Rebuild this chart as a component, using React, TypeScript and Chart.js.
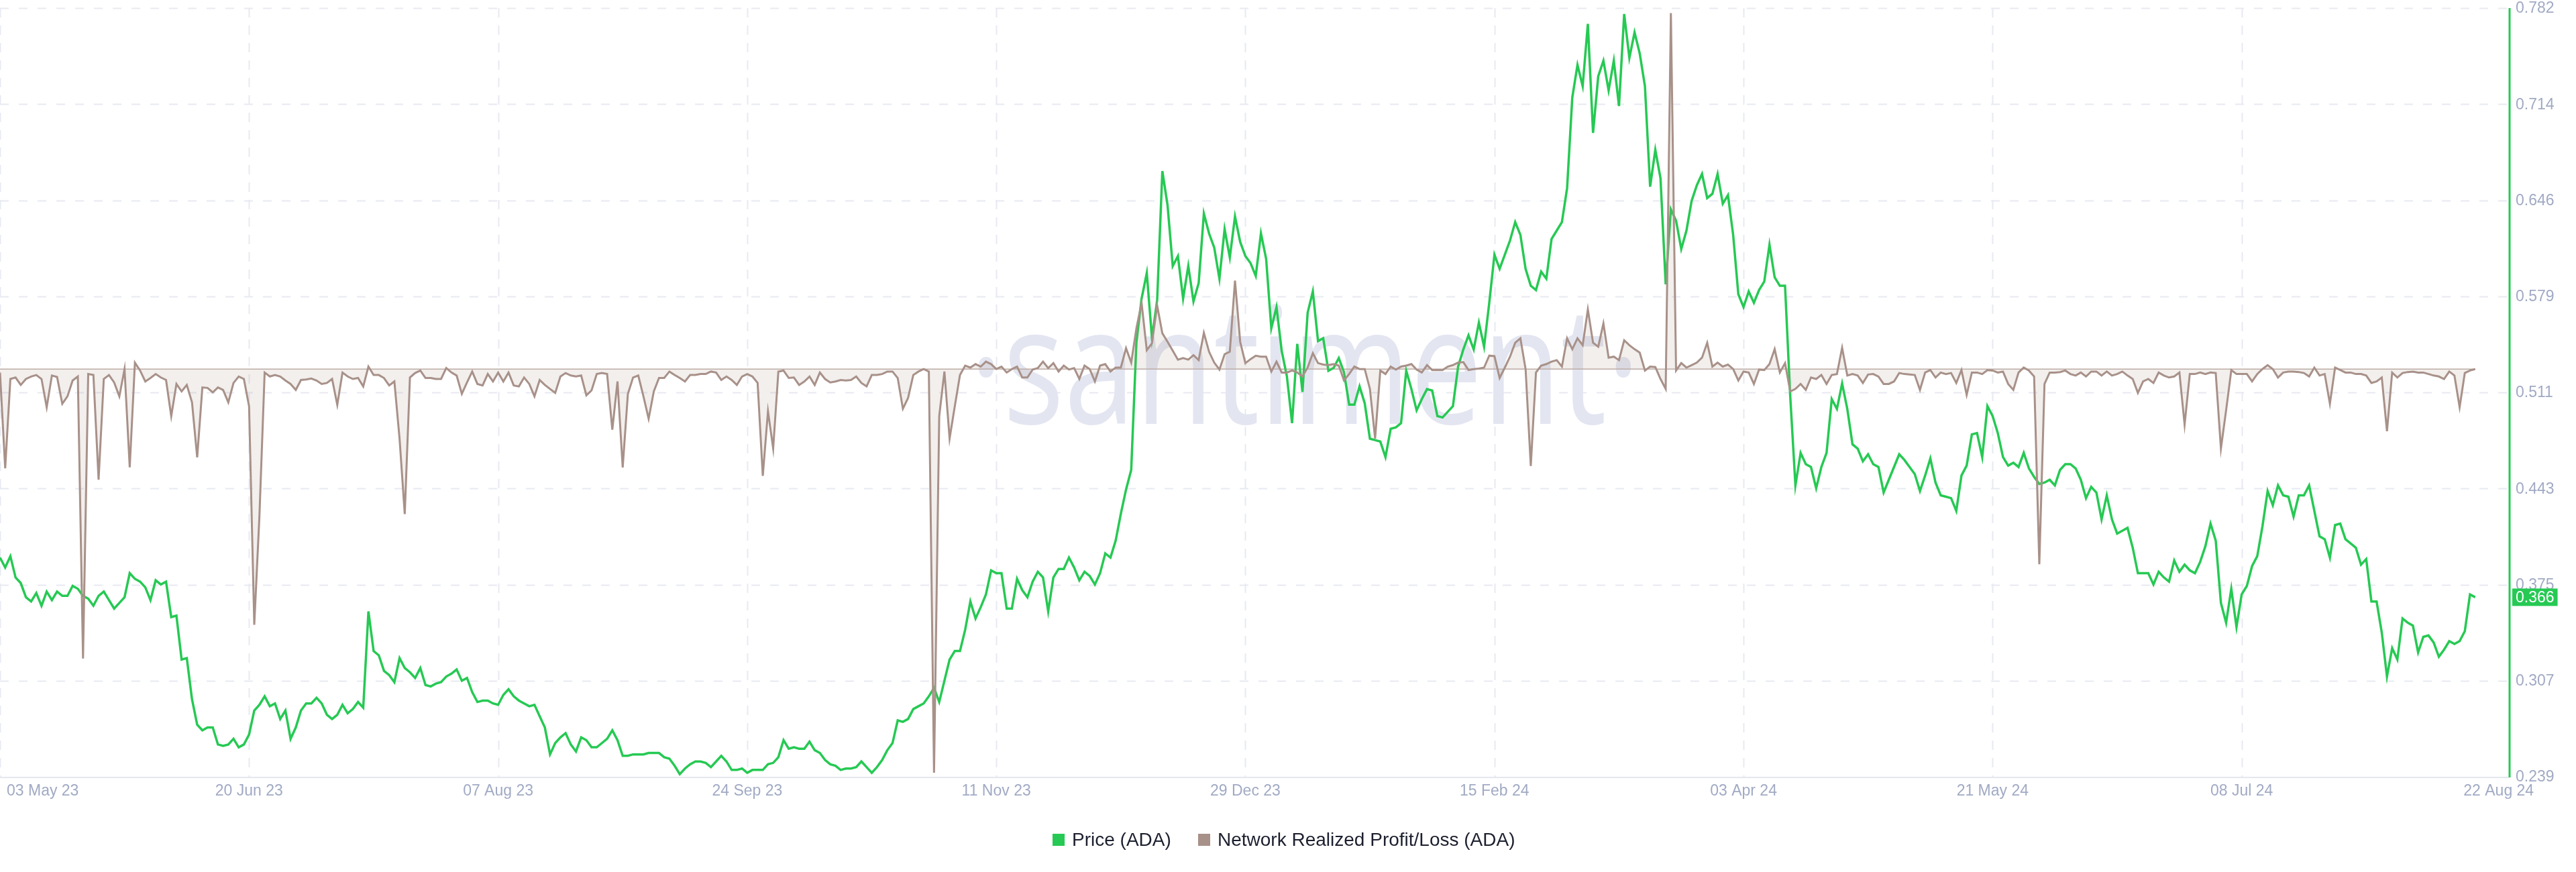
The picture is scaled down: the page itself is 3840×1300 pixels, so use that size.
import React, { useEffect, useRef } from "react";
import { Chart, registerables } from "chart.js";

Chart.register(...registerables);

// Daily series, first day = 03 May 2023
const START_DATE = "2023-05-03";

// Price (ADA), USD
const PRICE = [
  0.394, 0.387, 0.395, 0.380, 0.376, 0.366, 0.363, 0.369, 0.360, 0.370,
  0.364, 0.370, 0.367, 0.367, 0.374, 0.372, 0.367, 0.365, 0.360, 0.367,
  0.370, 0.364, 0.358, 0.362, 0.366, 0.383, 0.379, 0.377, 0.373, 0.364,
  0.378, 0.375, 0.377, 0.352, 0.353, 0.322, 0.323, 0.294, 0.276, 0.272,
  0.274, 0.274, 0.262, 0.261, 0.262, 0.266, 0.260, 0.262, 0.269, 0.286,
  0.290, 0.296, 0.289, 0.291, 0.280, 0.286, 0.266, 0.274, 0.286, 0.291,
  0.291, 0.295, 0.291, 0.283, 0.280, 0.283, 0.290, 0.284, 0.287, 0.292,
  0.288, 0.356, 0.328, 0.325, 0.314, 0.311, 0.306, 0.323, 0.316, 0.313,
  0.309, 0.316, 0.304, 0.303, 0.305, 0.306, 0.310, 0.312, 0.315, 0.307,
  0.309, 0.299, 0.292, 0.293, 0.293, 0.291, 0.290, 0.297, 0.301, 0.296,
  0.293, 0.291, 0.289, 0.290, 0.282, 0.274, 0.255, 0.263, 0.267, 0.270,
  0.262, 0.257, 0.267, 0.265, 0.260, 0.260, 0.263, 0.266, 0.272, 0.265,
  0.254, 0.254, 0.255, 0.255, 0.255, 0.256, 0.256, 0.256, 0.253, 0.252,
  0.247, 0.241, 0.245, 0.248, 0.250, 0.250, 0.249, 0.246, 0.250, 0.254,
  0.250, 0.244, 0.244, 0.245, 0.242, 0.244, 0.244, 0.244, 0.248, 0.249,
  0.253, 0.265, 0.259, 0.260, 0.259, 0.259, 0.264, 0.258, 0.256, 0.251,
  0.248, 0.247, 0.244, 0.245, 0.245, 0.246, 0.250, 0.246, 0.242, 0.246,
  0.251, 0.258, 0.263, 0.279, 0.278, 0.280, 0.287, 0.289, 0.291, 0.296,
  0.302, 0.292, 0.307, 0.322, 0.328, 0.328, 0.343, 0.363, 0.351, 0.359,
  0.368, 0.385, 0.383, 0.383, 0.358, 0.358, 0.379, 0.371, 0.366, 0.377,
  0.384, 0.380, 0.356, 0.380, 0.386, 0.386, 0.394, 0.387, 0.378, 0.384,
  0.381, 0.375, 0.383, 0.397, 0.394, 0.406, 0.425, 0.442, 0.456, 0.546,
  0.577, 0.595, 0.549, 0.576, 0.667, 0.643, 0.600, 0.607, 0.577, 0.600,
  0.575, 0.588, 0.637, 0.623, 0.613, 0.591, 0.626, 0.606, 0.635, 0.617,
  0.607, 0.602, 0.593, 0.623, 0.605, 0.556, 0.571, 0.540, 0.522, 0.489,
  0.545, 0.511, 0.567, 0.582, 0.547, 0.549, 0.526, 0.528, 0.535, 0.525,
  0.502, 0.502, 0.515, 0.503, 0.478, 0.477, 0.476, 0.465, 0.485, 0.486,
  0.489, 0.526, 0.513, 0.498, 0.506, 0.513, 0.512, 0.494, 0.493, 0.497,
  0.501, 0.529, 0.541, 0.551, 0.541, 0.560, 0.543, 0.574, 0.608, 0.598,
  0.608, 0.618, 0.631, 0.622, 0.598, 0.586, 0.583, 0.596, 0.591, 0.619,
  0.625, 0.631, 0.655, 0.719, 0.742, 0.727, 0.771, 0.694, 0.734, 0.745,
  0.724, 0.745, 0.713, 0.778, 0.747, 0.765, 0.750, 0.727, 0.656, 0.682,
  0.662, 0.587, 0.640, 0.632, 0.612, 0.625, 0.646, 0.657, 0.665, 0.648,
  0.651, 0.665, 0.644, 0.650, 0.622, 0.580, 0.571, 0.582, 0.574, 0.583,
  0.589, 0.615, 0.592, 0.586, 0.586, 0.508, 0.445, 0.468, 0.460, 0.458,
  0.443, 0.458, 0.468, 0.506, 0.499, 0.517, 0.499, 0.474, 0.471, 0.462,
  0.467, 0.460, 0.458, 0.440, 0.449, 0.458, 0.467, 0.463, 0.458, 0.453,
  0.441, 0.452, 0.464, 0.447, 0.438, 0.437, 0.436, 0.427, 0.452, 0.459,
  0.481, 0.482, 0.465, 0.501, 0.494, 0.482, 0.465, 0.459, 0.461, 0.458,
  0.468, 0.457, 0.451, 0.446, 0.447, 0.449, 0.445, 0.456, 0.460, 0.460,
  0.457, 0.449, 0.436, 0.444, 0.440, 0.421, 0.438, 0.421, 0.411, 0.413,
  0.415, 0.401, 0.383, 0.383, 0.383, 0.375, 0.384, 0.380, 0.377, 0.392,
  0.384, 0.389, 0.385, 0.383, 0.391, 0.402, 0.418, 0.406, 0.362, 0.348,
  0.372, 0.345, 0.368, 0.374, 0.388, 0.395, 0.416, 0.441, 0.431, 0.445,
  0.438, 0.437, 0.423, 0.438, 0.438, 0.445, 0.427, 0.409, 0.407, 0.394,
  0.417, 0.418, 0.407, 0.404, 0.401, 0.389, 0.393, 0.363, 0.363, 0.341,
  0.310, 0.330, 0.322, 0.351, 0.348, 0.346, 0.327, 0.338, 0.339, 0.334,
  0.324, 0.329, 0.335, 0.333, 0.335, 0.342, 0.368, 0.366,
];

// Network Realized Profit/Loss (ADA), millions of ADA
const NRPL = [
  -7, -200, -20, -17, -32, -20, -15, -12, -20, -77,
  -13, -16, -70, -55, -23, -15, -583, -10, -12, -223,
  -20, -12, -27, -55, 0, -198, 13, -3, -25, -18,
  -10, -17, -22, -95, -30, -45, -32, -67, -178, -37,
  -38, -47, -37, -42, -67, -28, -15, -20, -75, -515,
  -295, -7, -15, -12, -15, -23, -30, -42, -22, -21,
  -19, -23, -30, -28, -20, -72, -7, -15, -20, -18,
  -35, 5, -12, -12, -18, -33, -25, -140, -292, -17,
  -8, -3, -18, -18, -20, -20, 2, -7, -13, -50,
  -27, -5, -30, -33, -10, -25, -7, -25, -7, -33,
  -35, -17, -30, -55, -22, -32, -40, -48, -15, -8,
  -13, -15, -13, -53, -43, -10, -8, -10, -122, -25,
  -198, -50, -17, -13, -55, -100, -45, -18, -18, -5,
  -12, -18, -25, -12, -12, -10, -10, -5, -7, -22,
  -15, -22, -32, -15, -10, -15, -28, -215, -85, -160,
  -5, -3, -18, -17, -32, -25, -15, -32, -7, -20,
  -27, -25, -22, -23, -22, -15, -28, -35, -12, -12,
  -10, -5, -5, -18, -80, -58, -12, -5, 0, -5,
  -813, -95, -5, -140, -75, -12, 7, 3, 10, 5,
  15, 10, 0, 5, -7, 0, 5, -17, -17, -1,
  2, 15, 2, 12, -5, 7, -1, 2, -20, 7,
  0, -25, 7, 10, -5, 3, 3, 42, 13, 82,
  133, 38, 52, 128, 72, 55, 37, 19, 22, 19,
  28, 18, 73, 35, 13, -1, 30, 35, 178, 55,
  12, 20, 27, 25, 25, -5, 15, -7, -7, -3,
  -7, -15, 3, 32, 12, 9, 8, 10, 7, -23,
  -10, 5, 0, 0, -40, -140, -3, -10, 5, -1,
  5, 7, 10, -1, -7, 8, -2, -2, -2, 5,
  8, 13, 14, -2, 0, 1, 3, 27, 26, -18,
  3, 25, 53, 62, 0, -195, -7, 7, 10, 15,
  18, 5, 62, 40, 62, 48, 120, 53, 45, 92,
  23, 25, 18, 58, 48, 40, 33, -3, 5, 4,
  -20, -40, 717, -3, 12, 3, 8, 13, 23, 53,
  5, 13, 5, 9, 0, -23, -5, -7, -30, -1,
  -2, 10, 40, -7, 12, -45, -40, -30, -42, -17,
  -20, -12, -30, -12, -10, 43, -13, -10, -13, -28,
  -11, -10, -15, -30, -30, -25, -8, -10, -11, -12,
  -42, -7, -2, -17, -7, -10, -8, -28, -2, -52,
  -7, -7, -10, -2, -3, -7, -5, -30, -42, -7,
  3, -3, -15, -393, -30, -7, -7, -6, -3, -10,
  -13, -7, -15, -5, -5, -13, -5, -13, -10, -5,
  -13, -20, -48, -25, -20, -28, -7, -13, -17, -15,
  -7, -112, -10, -10, -7, -10, -7, -8, -160, -83,
  -2, -10, -10, -10, -25, -10, 0, 8, 0, -17,
  -7, -5, -5, -6, -8, -15, 3, -13, -10, -70,
  3, -2, -7, -7, -10, -10, -13, -28, -25, -17,
  -125, -7, -17, -8, -6, -5, -7, -7, -10, -13,
  -15, -20, -5, -13, -77, -8, -3, 0,
];

// X-axis ticks (day index from START_DATE) and their labels
const TICK_DAYS = [0, 48, 96, 144, 192, 240, 288, 336, 384, 432, 477];
const TICK_LABELS = [
  "03 May 23", "20 Jun 23", "07 Aug 23", "24 Sep 23", "11 Nov 23", "29 Dec 23",
  "15 Feb 24", "03 Apr 24", "21 May 24", "08 Jul 24", "22 Aug 24",
];

// Price axis range and tick count
const PRICE_MIN = 0.2392;
const PRICE_MAX = 0.7822;
const PRICE_TICK_COUNT = 9;
// NRPL axis range (millions ADA)
const NRPL_MIN = -821;
const NRPL_MAX = 727;
const X_MAX = 483.5;

const GREEN = "#26c953";
const BROWN = "#a89189";
const LABEL = "#a1aac4";
const GRID = "#e8eaf2";
const TICK_FONT = '23px "Liberation Sans", Arial, sans-serif';

const decorPlugin = {
  id: "decor",
  beforeDatasetsDraw(chart: any) {
    const { ctx, chartArea: a, scales } = chart;
    const x = scales.x, y = scales.y, y2 = scales.y2;
    ctx.save();
    // horizontal dashed grid
    ctx.strokeStyle = GRID;
    ctx.lineWidth = 2;
    ctx.setLineDash([13, 15]);
    for (let i = 0; i < PRICE_TICK_COUNT - 1; i++) {
      const v = PRICE_MAX - (i * (PRICE_MAX - PRICE_MIN)) / (PRICE_TICK_COUNT - 1);
      const py = Math.round(y.getPixelForValue(v)) + 0.5;
      ctx.beginPath();
      ctx.moveTo(a.left, py);
      ctx.lineTo(a.right, py);
      ctx.stroke();
    }
    // vertical dashed grid
    ctx.setLineDash([14, 12]);
    for (let i = 0; i < TICK_DAYS.length - 1; i++) {
      const px = Math.round(x.getPixelForValue(TICK_DAYS[i])) + 0.5;
      ctx.beginPath();
      ctx.moveTo(px, a.top);
      ctx.lineTo(px, a.bottom);
      ctx.stroke();
    }
    ctx.setLineDash([]);
    ctx.restore();

    // watermark
    ctx.save();
    ctx.fillStyle = "#e3e6f1";
    ctx.font = '243px "Open Sans", sans-serif';
    ctx.textAlign = "center";
    ctx.textBaseline = "alphabetic";
    const text = "·santiment·";
    const w = ctx.measureText(text).width;
    ctx.translate(1945, 632);
    ctx.scale(1000 / w, 1);
    ctx.fillText(text, 0, 0);
    ctx.restore();

    // zero baseline of NRPL
    ctx.save();
    const y0 = y2.getPixelForValue(0);
    ctx.strokeStyle = "#bfaea8";
    ctx.lineWidth = 1.5;
    ctx.beginPath();
    ctx.moveTo(x.getPixelForValue(0), y0);
    ctx.lineTo(x.getPixelForValue(NRPL.length - 1), y0);
    ctx.stroke();
    ctx.restore();
  },
  afterDraw(chart: any) {
    const { ctx, chartArea: a, scales } = chart;
    const x = scales.x, y = scales.y;
    ctx.save();
    // bottom axis line
    ctx.strokeStyle = "#e4e7f0";
    ctx.lineWidth = 2;
    ctx.beginPath();
    ctx.moveTo(a.left, a.bottom + 1);
    ctx.lineTo(a.right, a.bottom + 1);
    ctx.stroke();
    // right axis line
    ctx.strokeStyle = GREEN;
    ctx.lineWidth = 3;
    ctx.beginPath();
    ctx.moveTo(a.right + 1, a.top);
    ctx.lineTo(a.right + 1, a.bottom + 1);
    ctx.stroke();

    // y tick labels
    ctx.font = TICK_FONT;
    ctx.fillStyle = LABEL;
    ctx.textAlign = "left";
    ctx.textBaseline = "middle";
    for (let i = 0; i < PRICE_TICK_COUNT; i++) {
      const v = PRICE_MIN + (i * (PRICE_MAX - PRICE_MIN)) / (PRICE_TICK_COUNT - 1);
      ctx.fillText(v.toFixed(3), a.right + 10, y.getPixelForValue(v) + 1);
    }

    // x tick labels
    ctx.textBaseline = "middle";
    TICK_DAYS.forEach((d, i) => {
      const px = x.getPixelForValue(d);
      if (i === 0) {
        ctx.textAlign = "left";
        ctx.fillText(TICK_LABELS[i], px + 10, a.bottom + 22);
      } else if (i === TICK_DAYS.length - 1) {
        ctx.textAlign = "center";
        ctx.fillText(TICK_LABELS[i], px + 35, a.bottom + 22);
      } else {
        ctx.textAlign = "center";
        ctx.fillText(TICK_LABELS[i], px, a.bottom + 22);
      }
    });

    // last price badge
    const last = PRICE[PRICE.length - 1];
    const label = last.toFixed(3);
    const tw = ctx.measureText(label).width;
    const py = y.getPixelForValue(last);
    ctx.fillStyle = GREEN;
    ctx.fillRect(a.right + 5, py - 13, tw + 10, 26);
    ctx.fillStyle = "#ffffff";
    ctx.textAlign = "left";
    ctx.fillText(label, a.right + 10, py + 1);

    // legend
    const ly = 1252;
    ctx.font = '28px "Liberation Sans", Arial, sans-serif';
    ctx.textBaseline = "middle";
    ctx.textAlign = "left";
    ctx.fillStyle = GREEN;
    ctx.fillRect(1569, ly - 9, 18, 18);
    ctx.fillStyle = "#1c1f2e";
    ctx.fillText("Price (ADA)", 1598, ly + 1);
    ctx.fillStyle = BROWN;
    ctx.fillRect(1786, ly - 9, 18, 18);
    ctx.fillStyle = "#1c1f2e";
    ctx.fillText("Network Realized Profit/Loss (ADA)", 1815, ly + 1);
    ctx.restore();
  },
};

export default function App() {
  const canvasRef = useRef<HTMLCanvasElement | null>(null);

  useEffect(() => {
    const canvas = canvasRef.current;
    if (!canvas) return;
    const start = new Date(START_DATE + "T00:00:00Z");
    const dayLabel = (i: number) =>
      new Date(start.getTime() + i * 86400000).toISOString().slice(0, 10);

    const chart = new Chart(canvas, {
      type: "line",
      data: {
        datasets: [
          {
            label: "Network Realized Profit/Loss (ADA)",
            data: NRPL.map((v, i) => ({ x: i, y: v, d: dayLabel(i) })) as any,
            yAxisID: "y2",
            borderColor: BROWN,
            borderWidth: 3,
            backgroundColor: "rgba(168,145,137,0.15)",
            fill: { target: "origin" },
            pointRadius: 0,
            pointHoverRadius: 0,
            tension: 0,
            order: 0,
          },
          {
            label: "Price (ADA)",
            data: PRICE.map((v, i) => ({ x: i, y: v, d: dayLabel(i) })) as any,
            yAxisID: "y",
            borderColor: GREEN,
            borderWidth: 3.5,
            fill: false,
            pointRadius: 0,
            pointHoverRadius: 0,
            tension: 0,
            order: 1,
          },
        ],
      },
      options: {
        animation: false,
        responsive: false,
        devicePixelRatio: 1,
        events: [],
        layout: { padding: { top: 12, right: 100, bottom: 142, left: 0 } },
        plugins: {
          legend: { display: false },
          tooltip: { enabled: false },
        },
        scales: {
          x: { type: "linear", display: false, min: 0, max: X_MAX },
          y: { type: "linear", display: false, min: PRICE_MIN, max: PRICE_MAX },
          y2: { type: "linear", display: false, min: NRPL_MIN, max: NRPL_MAX },
        },
      },
      plugins: [decorPlugin],
    });
    return () => chart.destroy();
  }, []);

  return (
    <div style={{ position: "absolute", left: 0, top: 0, width: 3840, height: 1300, background: "#fff" }}>
      <canvas ref={canvasRef} width={3840} height={1300} style={{ display: "block" }} />
    </div>
  );
}
